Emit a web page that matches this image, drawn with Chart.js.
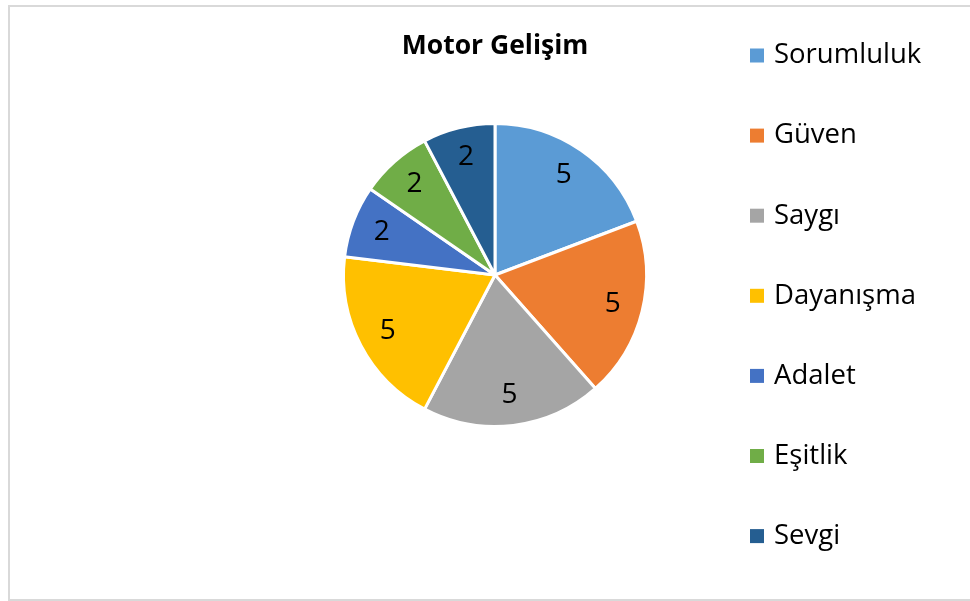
<!DOCTYPE html>
<html>
<head>
<meta charset="utf-8">
<title>Motor Gelişim</title>
<script src="https://cdn.jsdelivr.net/npm/chart.js@4.4.0/dist/chart.umd.min.js"></script>
<style>
    body { margin: 0; background: #fff; overflow: hidden; }
    #moldura {
        position: absolute; left: 8px; top: 5px;
        width: 990px; height: 592px;
        border: 2px solid #d9d9d9;
    }
    #caixa { position: absolute; left: 0; top: 0; width: 970px; height: 601px; }
</style>
</head>
<body>
<div id="moldura"></div>
<div id="caixa"><canvas id="grafico" width="970" height="601"></canvas></div>
<script>
var categorias = ["Sorumluluk", "Güven", "Saygı", "Dayanışma", "Adalet", "Eşitlik", "Sevgi"];
var valores = [5, 5, 5, 5, 2, 2, 2];
var cores = ["#5B9BD5", "#ED7D31", "#A5A5A5", "#FFC000", "#4472C4", "#70AD47", "#255E91"];
var titulo = "Motor Gelişim";

var fonte = "'Open Sans', 'Noto Sans', sans-serif";

// rotulos dentro das fatias
var rotulos = {
    id: "rotulos",
    afterDatasetsDraw: function (chart) {
        var ctx = chart.ctx;
        var meta = chart.getDatasetMeta(0);
        ctx.save();
        ctx.font = "28px " + fonte;
        ctx.fillStyle = "#000";
        ctx.textAlign = "center";
        ctx.textBaseline = "middle";
        meta.data.forEach(function (arco, i) {
            var p = arco.getProps(["x", "y", "startAngle", "endAngle", "outerRadius"], true);
            var meio = (p.startAngle + p.endAngle) / 2;
            var r = p.outerRadius * 0.8;
            ctx.fillText(chart.data.datasets[0].data[i], p.x + Math.cos(meio) * r, p.y + Math.sin(meio) * r);
        });
        ctx.restore();
    }
};

// legenda à direita, espaçada como no original
var legenda = {
    id: "legenda",
    afterDraw: function (chart) {
        var ctx = chart.ctx;
        var x = 750, topo = 55.5, passo = 80.1, lado = 14;
        ctx.save();
        ctx.font = "27.5px " + fonte;
        ctx.textBaseline = "middle";
        ctx.textAlign = "left";
        chart.data.labels.forEach(function (nome, i) {
            var cy = topo + i * passo;
            ctx.fillStyle = chart.data.datasets[0].backgroundColor[i];
            ctx.fillRect(x, cy - lado / 2, lado, lado);
            ctx.fillStyle = "#000";
            ctx.fillText(nome, x + 24, cy);
        });
        ctx.restore();
    }
};

var grafico = document.getElementById("grafico");

var meuGrafico = new Chart(grafico, {
    type: "pie",
    data: {
        labels: categorias,
        datasets: [{
            data: valores,
            backgroundColor: cores,
            borderColor: "#ffffff",
            borderWidth: 3
        }]
    },
    options: {
        responsive: false,
        animation: false,
        layout: {
            padding: { left: 195, right: 175, top: 20, bottom: 173 }
        },
        plugins: {
            legend: { display: false },
            tooltip: { enabled: false },
            title: {
                display: true,
                text: titulo,
                color: "#000",
                font: { family: fonte, size: 26.5, weight: "bold" },
                padding: { top: 10.1, bottom: 60.1 }
            }
        }
    },
    plugins: [rotulos, legenda]
});
</script>
</body>
</html>
